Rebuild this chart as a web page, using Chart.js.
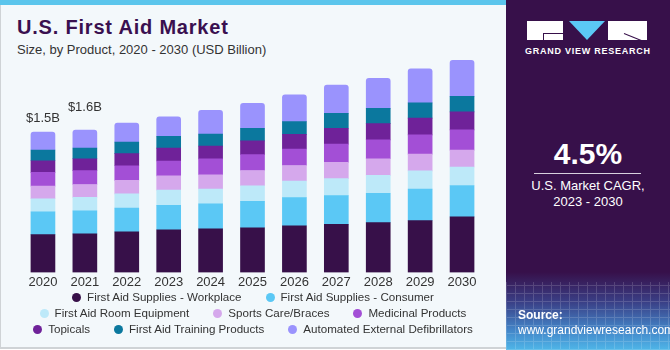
<!DOCTYPE html>
<html>
<head>
<meta charset="utf-8">
<script src="https://cdn.jsdelivr.net/npm/chart.js@4.4.1/dist/chart.umd.min.js"></script>
<style>
	html, body { margin: 0; padding: 0; background: #fff; }
	#frame { position: relative; width: 670px; height: 350px; overflow: hidden; font-family: "Liberation Sans", Arial, sans-serif; }
	#left { position: absolute; left: 0; top: 0; width: 505px; height: 347px; background: #f3f8fb; border-left: 1px solid #cfd3d6; border-bottom: 2px solid #cfd3d6; }
	#strip { position: absolute; left: 0; top: 0; width: 506px; height: 5px; background: #5bc5ec; }
	#title { position: absolute; left: 17px; top: 16px; font-size: 20px; font-weight: bold; color: #3a1050; letter-spacing: 0.8px; }
	#subtitle { position: absolute; left: 17px; top: 42px; font-size: 13px; color: #333; }
	#chart { position: absolute; left: 0; top: 40px; }
	#legend { position: absolute; left: 0; top: 289px; width: 506px; font-size: 11.6px; color: #333; }
	.row { display: flex; justify-content: center; gap: 24px; height: 16px; line-height: 16px; }
	.item { display: flex; align-items: center; white-space: nowrap; }
	.dot { width: 9px; height: 9px; border-radius: 50%; margin-right: 6px; }
	#right { position: absolute; left: 506px; top: 0; width: 164px; height: 350px;
		background: linear-gradient(to bottom, #37104a 0px, #37104a 272px, #3a3f86 302px, #4385c8 330px, #4fb6e8 350px); }
	#grid { position: absolute; left: 0; top: 282px; width: 164px; height: 68px; opacity: 0.15;
		background-image: repeating-linear-gradient(90deg, #fff 0 1px, transparent 1px 9px), repeating-linear-gradient(0deg, #fff 0 1px, transparent 1px 8px); }
	.logo { position: absolute; }
	#cagr { position: absolute; left: 0; top: 137px; width: 164px; text-align: center; color: #fff; font-size: 30px; font-weight: bold; }
	#rule { position: absolute; left: 28px; top: 173px; width: 107px; height: 1px; background: #d8d0de; }
	#cagrText { position: absolute; left: 0; top: 178px; width: 164px; text-align: center; color: #fff; font-size: 13px; line-height: 16px; }
	#source { position: absolute; left: 12px; top: 308px; color: #fff; font-size: 12px; line-height: 15px; }
</style>
</head>
<body>
<div id="frame">
	<div id="left"></div>
	<div id="strip"></div>
	<div id="title">U.S. First Aid Market</div>
	<div id="subtitle">Size, by Product, 2020 - 2030 (USD Billion)</div>
	<canvas id="chart" width="506" height="254"></canvas>
	<div id="legend"></div>
	<div id="right">
		<div id="grid"></div>
		<div class="logo" style="left:21px;top:21px;width:36px;height:19px;background:#fff;"></div>
		<div class="logo" style="left:37px;top:33px;width:20px;height:1px;background:#37104a;"></div>
		<div class="logo" style="left:37px;top:33px;width:1px;height:7px;background:#37104a;"></div>
		<div class="logo" style="left:63px;top:21px;width:0;height:0;border-left:18px solid transparent;border-right:18px solid transparent;border-top:19px solid #5bc8f5;"></div>
		<div class="logo" style="left:102px;top:21px;width:39px;height:19px;background:#fff;"></div>
		<div class="logo" style="left:118px;top:33px;width:22px;height:1px;background:#37104a;transform:rotate(22deg);transform-origin:left center;"></div>
		<div class="logo" style="left:0;top:46px;width:164px;text-align:center;color:#fff;font-size:9px;font-weight:bold;letter-spacing:0.75px;">GRAND VIEW RESEARCH</div>
		<div id="cagr">4.5%</div>
		<div id="rule"></div>
		<div id="cagrText">U.S. Market CAGR,<br>2023 - 2030</div>
		<div id="source"><b>Source:</b><br>www.grandviewresearch.com</div>
	</div>
</div>
<script>
const years = ["2020", "2021", "2022", "2023", "2024", "2025", "2026", "2027", "2028", "2029", "2030"];
const seriesNames = ["First Aid Supplies - Workplace", "First Aid Supplies - Consumer", "First Aid Room Equipment", "Sports Care/Braces", "Medicinal Products", "Topicals", "First Aid Training Products", "Automated External Defibrillators"];
const seriesColors = ["#371049", "#5bc8f5", "#bde9f9", "#d5a8ec", "#a34fd6", "#6f2299", "#0b789e", "#9a93fd"];

const workplace = [0.414, 0.422, 0.444, 0.467, 0.478, 0.489, 0.511, 0.526, 0.544, 0.567, 0.607];
const consumer = [0.248, 0.251, 0.259, 0.267, 0.273, 0.289, 0.307, 0.314, 0.322, 0.344, 0.344];
const roomEquipment = [0.144, 0.149, 0.156, 0.167, 0.162, 0.170, 0.182, 0.186, 0.196, 0.200, 0.203];
const sportsCare = [0.138, 0.140, 0.148, 0.156, 0.156, 0.167, 0.170, 0.178, 0.182, 0.184, 0.184];
const medicinal = [0.151, 0.152, 0.160, 0.162, 0.173, 0.174, 0.181, 0.200, 0.207, 0.211, 0.222];
const topicals = [0.127, 0.130, 0.133, 0.141, 0.141, 0.151, 0.160, 0.174, 0.178, 0.182, 0.197];
const trainingProducts = [0.118, 0.118, 0.126, 0.130, 0.130, 0.138, 0.140, 0.162, 0.167, 0.167, 0.170];
const defibrillators = [0.197, 0.197, 0.208, 0.214, 0.262, 0.273, 0.293, 0.311, 0.327, 0.373, 0.393];

const totalLabels = ["$1.5B", "$1.6B", "", "", "", "", "", "", "", "", ""];

const seriesValues = [workplace, consumer, roomEquipment, sportsCare, medicinal, topicals, trainingProducts, defibrillators];
const legendRows = [[0, 1], [2, 3, 4], [5, 6, 7]];

// legend built as html so the rows break like the original
const legend = document.querySelector("#legend");
legendRows.forEach(row => {
	const rowDiv = document.createElement("div");
	rowDiv.className = "row";
	row.forEach(i => {
		const item = document.createElement("div");
		item.className = "item";
		const dot = document.createElement("span");
		dot.className = "dot";
		dot.style.background = seriesColors[i];
		item.appendChild(dot);
		item.appendChild(document.createTextNode(seriesNames[i]));
		rowDiv.appendChild(item);
	});
	legend.appendChild(rowDiv);
});

// draws the total above the chosen bars
const totalsPlugin = {
	id: "totals",
	afterDatasetsDraw(chart, args, opts) {
		const ctx = chart.ctx;
		const meta = chart.getDatasetMeta(chart.data.datasets.length - 1);
		ctx.save();
		ctx.font = "13px 'Liberation Sans', Arial, sans-serif";
		ctx.fillStyle = "#333";
		ctx.textAlign = "center";
		ctx.textBaseline = "middle";
		totalLabels.forEach((label, i) => {
			if (!label) return;
			const bar = meta.data[i];
			ctx.fillText(label, bar.x, bar.y - opts.offsets[i]);
		});
		ctx.restore();
	}
};

new Chart(document.querySelector("#chart"), {
	type: "bar",
	data: {
		labels: years,
		datasets: seriesValues.map((values, i) => ({
			label: seriesNames[i],
			data: values,
			backgroundColor: seriesColors[i],
			barThickness: 24,
			borderSkipped: false,
			borderRadius: i === seriesValues.length - 1 ? {topLeft: 3, topRight: 3} : 0
		}))
	},
	options: {
		responsive: false,
		animation: false,
		layout: { padding: { left: 22, right: 23, top: 4, bottom: 2 } },
		plugins: {
			legend: { display: false },
			tooltip: { enabled: false },
			totals: { offsets: [14, 23] }
		},
		scales: {
			x: {
				stacked: true,
				grid: { display: false, drawTicks: false, tickLength: 0 },
				border: { display: false },
				ticks: { color: "#333", font: { family: "'Liberation Sans', Arial, sans-serif", size: 13 }, padding: 2 }
			},
			y: {
				stacked: true,
				display: false,
				min: 0,
				max: 2.5
			}
		}
	},
	plugins: [totalsPlugin]
});
</script>
</body>
</html>
